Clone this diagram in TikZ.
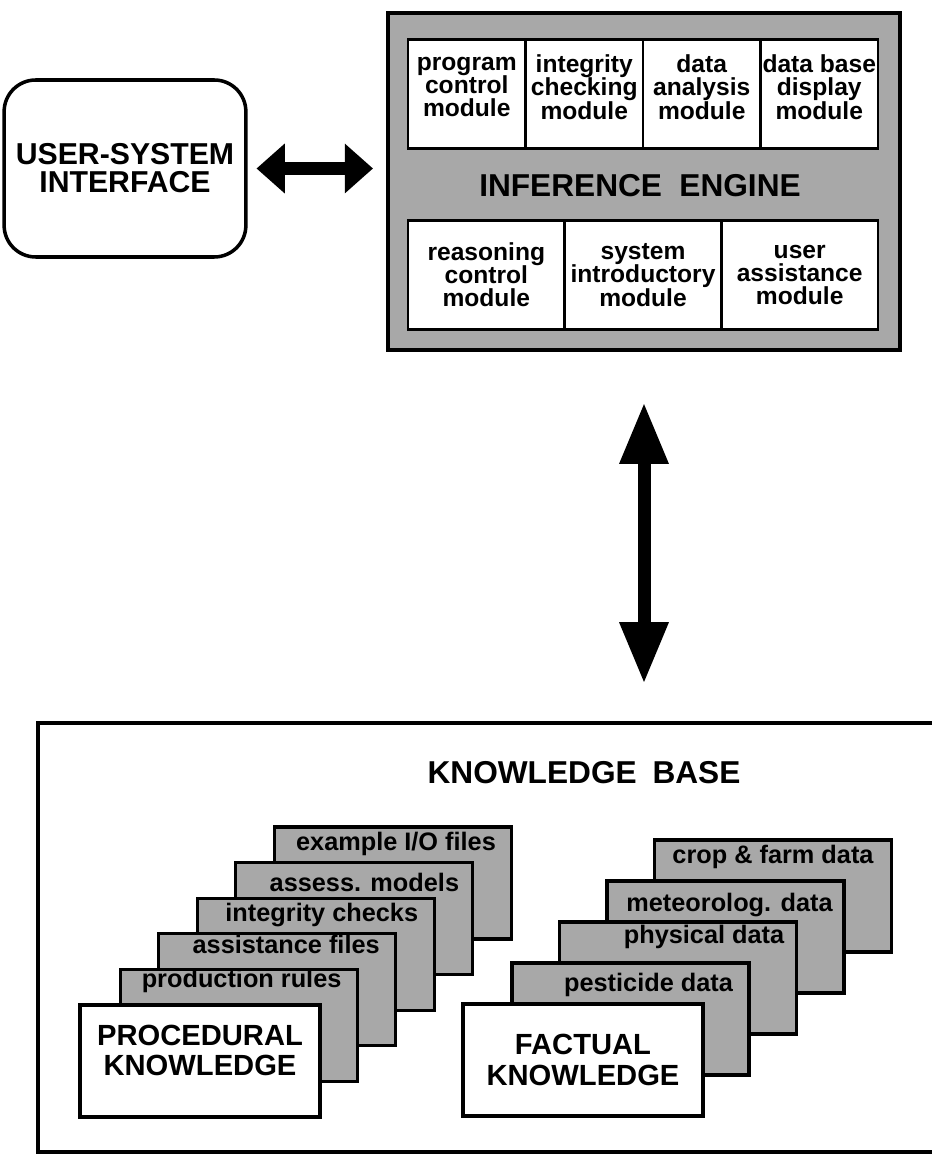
\documentclass[tikz,border=0pt]{standalone}
\usepackage{fontspec}
\setmainfont{Liberation Sans}
\usetikzlibrary{positioning, arrows.meta, calc}
\definecolor{dotgray}{RGB}{168,168,168}
\tikzset{
    interfacestyle/.style={rectangle, rounded corners=9pt, draw=black, fill=white, minimum width=2.30cm, minimum height=1.77cm, align=center, font=\fontsize{8.6}{8}\selectfont\bfseries, line width=1pt},
    enginestyle/.style={rectangle, draw=black, fill=dotgray, minimum width=5.12cm, minimum height=3.37cm, line width=1.2pt},
    cellstyle/.style={rectangle, draw=black, fill=white, outer sep=0pt, inner xsep=0pt, minimum width=#1, minimum height=1.09cm, align=center, font=\fontsize{7}{6.6}\selectfont\bfseries, line width=0.8pt},
    enginelbl/.style={font=\fontsize{9}{9}\selectfont\bfseries, text=black},
    cardstyle/.style={rectangle, draw=black, fill=dotgray, minimum width=2.37cm, minimum height=1.12cm, line width=0.9pt},
    basestyle/.style={rectangle, draw=black, fill=white, minimum width=2.40cm, minimum height=1.12cm, align=center, font=\fontsize{8.3}{8.6}\selectfont\bfseries, line width=0.9pt},
    cardlbl/.style={anchor=base, font=\fontsize{7.2}{8}\selectfont\bfseries},
    kbtitle/.style={font=\fontsize{9}{10}\selectfont\bfseries},
    bigarr/.style={{Triangle[length=#1, width=14.2pt, line width=0pt]}-{Triangle[length=#1, width=14.2pt, line width=0pt]}, line width=3.7pt}
}
\begin{document}
\begin{tikzpicture}
    \useasboundingbox (0,0) rectangle (9.32,11.54);

    % interface and inference engine
    \node[interfacestyle] (usi) at (1.25,9.855) {USER-SYSTEM\\INTERFACE};
    \node[enginestyle] (engine) at (6.44,9.725) {};
    \node[cellstyle=1.175cm, text depth=0.14cm] (pcm) at (4.6675,10.60) {program\\control\\module};
    \node[cellstyle=1.175cm, text depth=0.14cm, right=0pt of pcm] (icm) {integrity\\checking\\module};
    \node[cellstyle=1.175cm, text depth=0.14cm, right=0pt of icm] (dam) {data\\analysis\\module};
    \node[cellstyle=1.175cm, text depth=0.14cm, right=0pt of dam] (ddm) {data base\\display\\module};
    \node[enginelbl] (ielbl) at (6.40,9.68) {INFERENCE\hspace{0.55em}ENGINE};
    \node[cellstyle=1.567cm] (rcm) at (4.863,8.79) {reasoning\\control\\module};
    \node[cellstyle=1.567cm, right=0pt of rcm] (sim) {system\\introductory\\module};
    \node[cellstyle=1.567cm, right=0pt of sim] (uam) {user\\assistance\\module};

    \draw[bigarr=8pt] ([xshift=0.09cm]usi.east) -- ([xshift=-0.13cm]usi.east -| engine.west);

    % knowledge base frame
    \draw[line width=0.9pt] (9.40,4.31) -- (0.38,4.31) -- (0.38,0.02) -- (9.40,0.02);
    \coordinate (kbtop) at (6.44,4.31);
    \node[kbtitle] (kbt) at (5.84,3.815) {KNOWLEDGE\hspace{0.5em}BASE};

    \draw[bigarr=17pt] ([yshift=-0.52cm]engine.south) -- ([yshift=0.41cm]kbtop);

    % procedural stack, back to front
    \foreach \lbl/\dx/\dy [count=\i] in {example I{/}O files/0.03/0.25, assess. models/0.10/0.30, integrity checks/0.06/0.25, assistance files/0.09/0.21, production rules/0.03/0.20} {
        \pgfmathsetmacro{\k}{6-\i}
        \node[cardstyle] (pc\i) at ({2.00+0.386*\k},{0.93+0.356*\k}) {};
        \node[cardlbl] (pl\i) at ($(pc\i.north)+(\dx,-\dy)$) {\lbl};
    }
    \node[basestyle, text depth=0.22cm] (proc) at (2.00,0.93) {PROCEDURAL\\KNOWLEDGE};

    % factual stack, back to front
    \foreach \lbl/\dx/\dy [count=\i] in {crop \& farm data/0.0/0.25, meteorolog. data/0.04/0.32, physical data/0.26/0.23, pesticide data/0.18/0.30} {
        \pgfmathsetmacro{\k}{5-\i}
        \node[cardstyle] (fc\i) at ({5.83+0.475*\k},{0.94+0.41*\k}) {};
        \node[cardlbl] (fl\i) at ($(fc\i.north)+(\dx,-\dy)$) {\lbl};
    }
    \node[basestyle] (fact) at (5.83,0.94) {FACTUAL\\KNOWLEDGE};
\end{tikzpicture}
\end{document}
